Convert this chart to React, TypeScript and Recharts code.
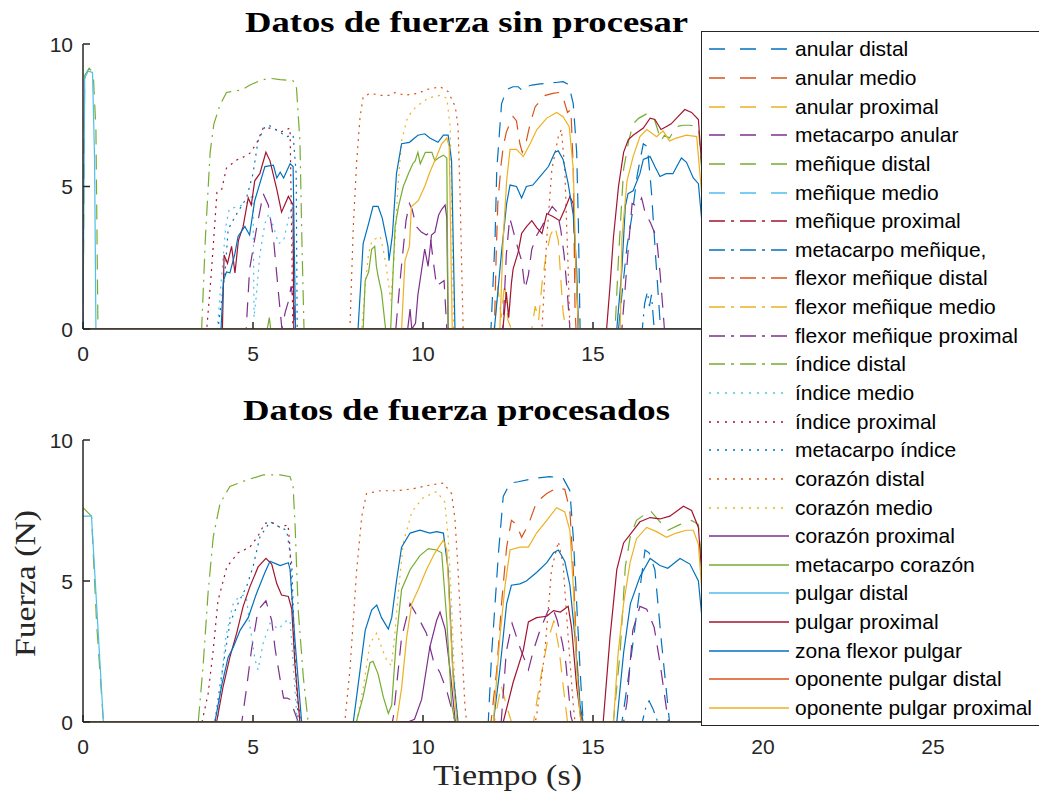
import React from "react";
import { Legend, Line, LineChart, XAxis, YAxis } from "recharts";

type Pt = [number, number];

const xTicks = [0, 5, 10, 15, 20, 25];
const yTicks = [0, 5, 10];

const seriesNames = [
  "anular distal",
  "anular medio",
  "anular proximal",
  "metacarpo anular",
  "meñique distal",
  "meñique medio",
  "meñique proximal",
  "metacarpo meñique,",
  "flexor meñique distal",
  "flexor meñique medio",
  "flexor meñique proximal",
  "índice distal",
  "índice medio",
  "índice proximal",
  "metacarpo índice",
  "corazón distal",
  "corazón medio",
  "corazón proximal",
  "metacarpo corazón",
  "pulgar distal",
  "pulgar proximal",
  "zona flexor pulgar",
  "oponente pulgar distal",
  "oponente pulgar proximal",
];

const seriesColors = [
  "#0072BD", "#D95319", "#EDB120", "#7E2F8E", "#77AC30", "#4DBEEE",
  "#A2142F", "#0072BD", "#D95319", "#EDB120", "#7E2F8E", "#77AC30",
  "#4DBEEE", "#A2142F", "#0072BD", "#D95319", "#EDB120", "#7E2F8E",
  "#77AC30", "#4DBEEE", "#A2142F", "#0072BD", "#D95319", "#EDB120",
];

const seriesStyles = [
  "dash", "dash", "dash", "dash", "dash", "dash",
  "dashdot", "dashdot", "dashdot", "dashdot", "dashdot", "dashdot",
  "dot", "dot", "dot", "dot", "dot",
  "solid", "solid", "solid", "solid", "solid", "solid", "solid",
];

// ---- raw force data (top panel), [time s, force N] ----
const rawAnularDistal: Pt[] = [[0, 0], [12.0, 0], [12.12, 3.2], [12.17, 5.6], [12.31, 7.9], [12.46, 8.4], [12.65, 8.5], [12.8, 8.5], [12.94, 8.35], [13.05, 8.5], [13.2, 8.56], [13.45, 8.6], [13.64, 8.62], [13.9, 8.65], [14.12, 8.68], [14.25, 8.6], [14.32, 8.4], [14.42, 7.9], [14.52, 6.2], [14.57, 3.7], [14.62, 0], [15.75, 0], [15.85, 1.2], [16.0, 2.9], [16.15, 4.0], [16.3, 5.4], [16.48, 6.5], [16.6, 6.4], [16.72, 4.8], [16.85, 2.4], [16.97, 0.3], [17.0, 0], [25, 0]];
const rawAnularMedio: Pt[] = [[0, 0], [12.1, 0], [12.15, 2.5], [12.2, 4.4], [12.3, 5.8], [12.36, 6.4], [12.45, 6.9], [12.55, 7.2], [12.65, 7.45], [12.75, 7.3], [12.85, 6.5], [12.92, 6.2], [13.04, 6.6], [13.15, 7.2], [13.3, 7.8], [13.45, 8.0], [13.6, 8.2], [13.82, 8.27], [14.02, 8.3], [14.15, 8.0], [14.25, 7.6], [14.35, 7.7], [14.42, 5.6], [14.47, 0.8], [14.5, 0], [25, 0]];
const rawAnularProximal: Pt[] = [[0, 0], [12.1, 0], [12.2, 1.5], [12.3, 0.4], [12.4, 1.6], [12.5, 0.3], [12.6, 0], [13.2, 0], [13.3, 0.8], [13.4, 0.3], [13.5, 1.6], [13.62, 2.6], [13.75, 3.3], [13.88, 3.6], [13.98, 3.1], [14.05, 1.8], [14.12, 0.6], [14.2, 0], [25, 0]];
const rawMetacarpoAnular: Pt[] = [[0, 0], [4.8, 0], [4.9, 2.1], [5.1, 3.5], [5.3, 4.75], [5.45, 4.35], [5.6, 3.2], [5.75, 1.25], [5.85, 0], [5.95, 0.6], [6.05, 1.0], [6.12, 1.5], [6.2, 0.9], [6.25, 0], [9.2, 0], [9.35, 2.0], [9.5, 3.8], [9.6, 4.4], [9.68, 4.2], [9.8, 3.6], [9.95, 3.4], [10.1, 3.3], [10.2, 3.4], [10.3, 2.4], [10.4, 1.5], [10.5, 1.6], [10.62, 1.7], [10.7, 0], [12.35, 0], [12.45, 2.6], [12.55, 3.9], [12.62, 3.6], [12.75, 3.0], [12.9, 2.4], [13.0, 1.4], [13.1, 1.9], [13.2, 2.8], [13.35, 3.3], [13.5, 3.6], [13.65, 4.0], [13.8, 4.3], [13.95, 4.1], [14.05, 3.5], [14.15, 2.6], [14.25, 1.2], [14.32, 0], [15.85, 0], [15.95, 1.5], [16.05, 3.0], [16.15, 4.4], [16.3, 4.3], [16.43, 4.6], [16.53, 4.1], [16.7, 3.7], [16.87, 3.2], [16.97, 2.0], [17.06, 0.65], [17.1, 0], [25, 0]];
const rawMeniqueDistal: Pt[] = [[0, 0], [0.05, 8.9], [0.18, 9.15], [0.3, 9.0], [0.38, 7], [0.44, 0], [15.65, 0], [15.75, 2.5], [15.9, 5.6], [16.05, 6.6], [16.18, 7.2], [16.35, 7.4], [16.58, 7.55], [16.78, 7.45], [16.9, 7.0], [17.0, 6.6], [17.1, 6.8], [17.25, 6.7], [17.45, 7.1], [17.65, 7.15], [17.85, 7.15], [18.1, 7.1], [18.3, 4], [18.45, 0], [25, 0]];
const rawMeniqueMedio: Pt[] = [[0, 0], [25, 0]];
const rawMeniqueProximal: Pt[] = [[0, 0], [25, 0]];
const rawMetacarpoMenique: Pt[] = [[0, 0], [16.45, 0], [16.52, 0.9], [16.6, 1.3], [16.66, 0.8], [16.72, 1.2], [16.8, 0], [25, 0]];
const rawFlexorMeniqueDistal: Pt[] = [[0, 0], [25, 0]];
const rawFlexorMeniqueMedio: Pt[] = [[0, 0], [25, 0]];
const rawFlexorMeniqueProximal: Pt[] = [[0, 0], [25, 0]];
const rawIndiceDistal: Pt[] = [[0, 0], [3.49, 0], [3.6, 3.2], [3.74, 6.2], [3.85, 7.2], [4.03, 7.86], [4.22, 8.3], [4.45, 8.35], [4.67, 8.39], [4.91, 8.56], [5.2, 8.71], [5.47, 8.8], [5.8, 8.75], [6.18, 8.71], [6.28, 8.45], [6.38, 6.6], [6.44, 3], [6.5, 0], [25, 0]];
const rawIndiceMedio: Pt[] = [[0, 0], [3.95, 0], [4.1, 2.2], [4.2, 3.6], [4.3, 4.2], [4.55, 4.3], [4.71, 4.35], [4.9, 4.5], [5.0, 4.75], [5.03, 0.4], [5.1, 1.2], [5.2, 2.6], [5.35, 3.7], [5.47, 4.05], [5.6, 3.6], [5.75, 3.0], [5.9, 3.1], [6.05, 3.9], [6.15, 4.3], [6.2, 0], [25, 0]];
const rawIndiceProximal: Pt[] = [[0, 0], [3.64, 0], [3.75, 1.6], [3.83, 2.9], [3.94, 4.8], [4.08, 4.9], [4.22, 5.65], [4.52, 5.93], [4.75, 6.05], [4.91, 6.17], [5.1, 6.5], [5.3, 7.05], [5.6, 7.05], [5.8, 6.9], [6.09, 7.05], [6.14, 3.1], [6.17, 0], [25, 0]];
const rawMetacarpoIndice: Pt[] = [[0, 0], [3.97, 0], [4.18, 2.0], [4.27, 3.5], [4.5, 4.0], [4.81, 4.6], [5.0, 5.45], [5.15, 6.6], [5.35, 7.1], [5.5, 7.13], [5.8, 6.9], [5.99, 6.75], [6.18, 6.8], [6.27, 5.45], [6.3, 0], [25, 0]];
const rawCorazonDistal: Pt[] = [[0, 0], [7.85, 0], [7.95, 3.6], [8.05, 5.9], [8.15, 7.45], [8.24, 8.15], [8.45, 8.27], [8.74, 8.2], [9.04, 8.2], [9.18, 8.3], [9.47, 8.2], [9.86, 8.27], [10.1, 8.4], [10.5, 8.5], [10.74, 8.33], [10.95, 7.8], [11.03, 7.1], [11.09, 4.75], [11.18, 0], [13.5, 0], [13.64, 3.2], [13.79, 5.6], [13.98, 6.75], [14.07, 7.0], [14.17, 5.6], [14.27, 2.1], [14.32, 0], [25, 0]];
const rawCorazonMedio: Pt[] = [[0, 0], [8.2, 0], [8.3, 1.5], [8.4, 2.65], [8.5, 3.1], [8.74, 3.25], [8.83, 2.8], [8.93, 2.1], [9.05, 1.0], [9.15, 2.5], [9.25, 4.8], [9.37, 6.6], [9.55, 7.45], [9.8, 7.8], [10.15, 8.1], [10.5, 8.2], [10.7, 8.1], [10.8, 7.1], [10.84, 4.75], [10.9, 0], [25, 0]];
const rawCorazonProximal: Pt[] = [[0, 0], [9.55, 0], [9.62, 0.7], [9.67, 0], [9.78, 0.2], [9.85, 1.2], [9.95, 2.0], [10.05, 2.8], [10.15, 2.2], [10.25, 3.3], [10.35, 3.4], [10.46, 4.0], [10.55, 4.2], [10.65, 4.35], [10.7, 3.9], [10.74, 0], [25, 0]];
const rawMetacarpoCorazon: Pt[] = [[0, 0], [5.42, 0], [5.48, 0.4], [5.52, 0], [8.24, 0], [8.3, 1.7], [8.4, 2.0], [8.49, 2.8], [8.58, 2.9], [8.63, 2.2], [8.68, 1.85], [8.78, 1.3], [8.9, 0], [9.05, 0], [9.12, 2.0], [9.18, 3.6], [9.28, 4.3], [9.42, 5.0], [9.57, 5.45], [9.7, 5.8], [9.77, 5.9], [9.85, 6.2], [9.92, 5.8], [10.07, 6.2], [10.26, 6.2], [10.35, 5.9], [10.45, 6.0], [10.6, 6.1], [10.7, 6.0], [10.74, 0], [25, 0]];
const rawPulgarDistal: Pt[] = [[0, 0], [0.05, 8.8], [0.15, 9.05], [0.28, 9.0], [0.34, 6], [0.38, 0], [25, 0]];
const rawPulgarProximal: Pt[] = [[0, 0], [4.1, 0], [4.15, 2.6], [4.25, 2.3], [4.37, 2.9], [4.47, 1.97], [4.57, 3.1], [4.71, 3.6], [4.86, 4.6], [4.95, 4.35], [5.05, 5.2], [5.2, 5.45], [5.38, 6.2], [5.5, 5.9], [5.7, 4.9], [5.84, 4.1], [6.04, 4.65], [6.18, 4.35], [6.2, 0], [12.35, 0], [12.45, 1.3], [12.52, 0.4], [12.6, 1.6], [12.65, 2.1], [12.8, 2.7], [12.9, 3.35], [13.05, 3.6], [13.2, 3.8], [13.35, 3.55], [13.5, 3.35], [13.64, 4.05], [13.82, 3.95], [14.02, 3.8], [14.17, 4.2], [14.32, 4.65], [14.42, 4.4], [14.5, 2.1], [14.57, 0], [15.4, 0], [15.5, 1.5], [15.6, 3.2], [15.75, 5.0], [15.9, 6.2], [16.04, 6.65], [16.18, 6.8], [16.48, 7.05], [16.68, 7.4], [16.82, 7.35], [17.0, 7.0], [17.15, 7.1], [17.3, 7.2], [17.5, 7.45], [17.7, 7.7], [17.9, 7.6], [18.1, 7.35], [18.3, 4.0], [18.45, 0], [25, 0]];
const rawZonaFlexorPulgar: Pt[] = [[0, 0], [4.06, 0], [4.13, 1.7], [4.22, 2.0], [4.32, 1.97], [4.47, 2.65], [4.56, 3.25], [4.76, 3.6], [4.9, 3.3], [5.05, 4.5], [5.2, 5.1], [5.35, 5.7], [5.6, 5.75], [5.7, 5.3], [5.8, 5.5], [5.9, 5.3], [6.09, 5.8], [6.18, 5.7], [6.25, 0], [8.09, 0], [8.24, 3.0], [8.4, 3.7], [8.53, 4.3], [8.68, 4.3], [8.8, 3.9], [8.97, 2.9], [9.0, 2.4], [9.1, 3.3], [9.22, 5.45], [9.37, 6.5], [9.6, 6.55], [9.85, 6.8], [10.05, 6.85], [10.2, 6.7], [10.44, 6.55], [10.6, 6.8], [10.74, 6.8], [10.84, 5.9], [10.94, 0], [12.1, 0], [12.31, 2.7], [12.46, 4.4], [12.56, 5.05], [12.75, 5.0], [12.9, 4.6], [13.04, 5.0], [13.23, 5.05], [13.44, 5.35], [13.69, 5.7], [13.88, 6.2], [13.98, 6.25], [14.12, 5.95], [14.27, 5.1], [14.42, 4.0], [14.52, 2.1], [14.57, 0], [15.7, 0], [15.85, 2.1], [15.95, 4.3], [16.03, 4.75], [16.18, 4.85], [16.38, 5.45], [16.48, 5.95], [16.68, 6.05], [16.82, 5.7], [16.97, 5.35], [17.15, 5.45], [17.35, 5.45], [17.6, 6.0], [17.75, 5.85], [17.95, 5.3], [18.1, 5.1], [18.3, 2.5], [18.45, 0], [25, 0]];
const rawOponentePulgarDistal: Pt[] = [[0, 0], [25, 0]];
const rawOponentePulgarProximal: Pt[] = [[0, 0], [9.37, 0], [9.47, 2.4], [9.6, 2.9], [9.66, 4.3], [9.86, 4.5], [10.05, 5.0], [10.2, 5.5], [10.4, 6.05], [10.55, 6.5], [10.7, 6.7], [10.77, 6.4], [10.86, 0], [12.26, 0], [12.36, 3.2], [12.46, 5.2], [12.56, 6.3], [12.75, 6.3], [12.95, 6.05], [13.15, 6.5], [13.35, 7.0], [13.64, 7.4], [13.93, 7.6], [14.12, 7.45], [14.3, 7.1], [14.42, 5.6], [14.5, 2.1], [14.57, 0], [15.8, 0], [15.85, 3.2], [16.0, 5.2], [16.18, 6.05], [16.38, 6.75], [16.58, 7.0], [16.87, 6.75], [17.06, 6.95], [17.25, 6.6], [17.45, 6.7], [17.75, 6.8], [18.05, 6.75], [18.25, 4.0], [18.4, 0], [25, 0]];

// ---- processed force data (bottom panel) ----
const procAnularDistal: Pt[] = [[0, 0], [11.92, 0], [12.02, 2.45], [12.12, 4.2], [12.22, 6.0], [12.36, 8.0], [12.56, 8.47], [12.8, 8.52], [13.34, 8.65], [13.73, 8.7], [14.12, 8.65], [14.32, 8.2], [14.42, 6.55], [14.52, 4.2], [14.62, 1.85], [14.71, 0], [15.85, 0], [15.9, 0.4], [16.1, 2.1], [16.3, 4.0], [16.53, 6.1], [16.65, 6.0], [16.82, 5.4], [17.0, 3.0], [17.15, 1.2], [17.25, 0], [25, 0]];
const procAnularMedio: Pt[] = [[0, 0], [12.0, 0], [12.17, 1.85], [12.31, 4.2], [12.46, 6.2], [12.6, 7.15], [12.75, 7.0], [12.9, 6.55], [13.1, 7.0], [13.34, 7.8], [13.64, 8.1], [13.93, 8.3], [14.17, 8.25], [14.32, 7.5], [14.42, 5.4], [14.52, 2.45], [14.62, 0.4], [14.67, 0], [25, 0]];
const procAnularProximal: Pt[] = [[0, 0], [12.1, 0], [12.3, 1.3], [12.45, 0.6], [12.6, 0], [13.25, 0], [13.45, 1.5], [13.65, 2.8], [13.85, 3.6], [14.0, 2.6], [14.15, 1.0], [14.25, 0], [25, 0]];
const procMetacarpoAnular: Pt[] = [[0, 0], [4.67, 0], [4.81, 1.2], [4.96, 2.6], [5.15, 3.97], [5.38, 4.3], [5.55, 3.6], [5.65, 2.6], [5.8, 1.5], [5.9, 0.85], [6.0, 0.85], [6.09, 0.8], [6.24, 0.3], [6.33, 0], [9.1, 0], [9.13, 0.2], [9.37, 3.0], [9.62, 4.2], [9.86, 3.7], [10.1, 3.15], [10.3, 2.2], [10.5, 1.75], [10.7, 1.1], [10.9, 0.2], [10.95, 0], [12.3, 0], [12.45, 2.5], [12.62, 3.5], [12.85, 2.65], [13.1, 1.85], [13.25, 2.55], [13.44, 3.25], [13.68, 3.95], [13.8, 4.1], [13.95, 3.6], [14.1, 2.8], [14.2, 2.1], [14.35, 0.2], [14.4, 0], [15.9, 0], [16.0, 0.7], [16.17, 3.25], [16.38, 4.1], [16.58, 4.0], [16.8, 3.35], [16.97, 2.1], [17.18, 0.3], [17.22, 0], [25, 0]];
const procMeniqueDistal: Pt[] = [[0, 7.6], [0.25, 7.3], [0.4, 3.5], [0.6, 0], [15.6, 0], [15.8, 2.5], [15.95, 5.5], [16.1, 6.6], [16.28, 7.15], [16.68, 7.5], [16.97, 7.1], [17.2, 6.8], [17.55, 7.0], [17.9, 7.15], [18.1, 7.0], [18.3, 4], [18.5, 0], [25, 0]];
const procMeniqueMedio: Pt[] = [[0, 0], [25, 0]];
const procMeniqueProximal: Pt[] = [[0, 0], [25, 0]];
const procMetacarpoMenique: Pt[] = [[0, 0], [16.45, 0], [16.55, 0.5], [16.65, 0.75], [16.75, 0.5], [16.85, 0.2], [16.9, 0], [25, 0]];
const procFlexorMeniqueDistal: Pt[] = [[0, 0], [25, 0]];
const procFlexorMeniqueMedio: Pt[] = [[0, 0], [25, 0]];
const procFlexorMeniqueProximal: Pt[] = [[0, 0], [25, 0]];
const procIndiceDistal: Pt[] = [[0, 0], [3.39, 0], [3.53, 1.95], [3.68, 4.6], [3.83, 6.55], [4.03, 7.75], [4.32, 8.35], [4.81, 8.58], [5.3, 8.76], [5.8, 8.76], [6.09, 8.7], [6.18, 8.35], [6.24, 6.9], [6.33, 3.97], [6.48, 1.6], [6.62, 0], [25, 0]];
const procIndiceMedio: Pt[] = [[0, 0], [3.95, 0], [4.1, 1.8], [4.2, 3.0], [4.32, 3.7], [4.42, 4.2], [4.56, 4.4], [4.71, 4.5], [4.8, 4.45], [4.91, 3.4], [5.06, 2.2], [5.15, 1.85], [5.3, 2.8], [5.5, 3.5], [5.75, 3.3], [5.99, 3.6], [6.09, 3.6], [6.18, 2.1], [6.3, 0], [25, 0]];
const procIndiceProximal: Pt[] = [[0, 0], [3.5, 0], [3.68, 1.0], [3.83, 2.55], [3.97, 4.3], [4.23, 5.5], [4.56, 6.0], [4.91, 6.2], [5.15, 6.6], [5.35, 7.05], [5.6, 7.05], [5.8, 6.9], [6.03, 7.0], [6.08, 6.3], [6.18, 3.4], [6.3, 1.0], [6.4, 0], [25, 0]];
const procMetacarpoIndice: Pt[] = [[0, 0], [3.88, 0], [4.03, 1.3], [4.18, 2.45], [4.32, 3.5], [4.56, 4.2], [4.81, 4.8], [5.0, 5.5], [5.2, 6.55], [5.5, 7.1], [5.8, 6.9], [5.99, 6.8], [6.14, 5.6], [6.24, 2.1], [6.33, 0], [25, 0]];
const procCorazonDistal: Pt[] = [[0, 0], [7.7, 0], [7.85, 1.85], [7.95, 3.6], [8.05, 5.4], [8.2, 7.3], [8.34, 8.1], [8.74, 8.2], [9.22, 8.2], [9.7, 8.27], [10.2, 8.4], [10.6, 8.47], [10.84, 8.1], [10.94, 7.2], [11.03, 5.4], [11.13, 3.0], [11.23, 0.65], [11.28, 0], [13.3, 0], [13.34, 0.2], [13.58, 2.45], [13.78, 5.4], [13.98, 6.4], [14.12, 5.6], [14.27, 3.0], [14.42, 0.6], [14.47, 0], [25, 0]];
const procCorazonMedio: Pt[] = [[0, 0], [8.05, 0], [8.24, 1.2], [8.44, 2.8], [8.64, 3.15], [8.78, 2.65], [8.93, 2.2], [9.07, 2.0], [9.17, 3.1], [9.27, 4.55], [9.42, 6.35], [9.67, 7.45], [10.0, 7.95], [10.4, 8.17], [10.64, 7.8], [10.74, 6.55], [10.84, 4.2], [10.94, 1.2], [11.03, 0], [25, 0]];
const procCorazonProximal: Pt[] = [[0, 0], [9.55, 0], [9.75, 0.1], [9.96, 0.8], [10.2, 2.65], [10.4, 3.6], [10.5, 3.9], [10.65, 3.3], [10.8, 1.8], [10.95, 0], [25, 0]];
const procMetacarpoCorazon: Pt[] = [[0, 0], [8.04, 0], [8.24, 0.9], [8.44, 2.1], [8.53, 2.15], [8.68, 1.7], [8.83, 0.9], [8.98, 0.3], [9.08, 0.6], [9.22, 3.0], [9.37, 4.7], [9.62, 5.4], [9.91, 5.9], [10.16, 6.15], [10.4, 6.1], [10.55, 6.0], [10.7, 3.6], [10.84, 0.65], [10.94, 0], [25, 0]];
const procPulgarDistal: Pt[] = [[0, 7.3], [0.25, 7.3], [0.6, 0], [25, 0]];
const procPulgarProximal: Pt[] = [[0, 0], [3.93, 0], [4.12, 1.25], [4.32, 2.3], [4.52, 3.15], [4.71, 4.1], [4.91, 4.8], [5.15, 5.5], [5.38, 5.8], [5.55, 5.6], [5.7, 4.9], [5.84, 4.5], [6.04, 4.45], [6.14, 4.0], [6.23, 2.1], [6.38, 0], [12.36, 0], [12.65, 1.4], [12.95, 2.55], [13.1, 3.55], [13.34, 3.7], [13.64, 3.75], [13.84, 3.95], [14.04, 3.9], [14.27, 4.1], [14.37, 3.35], [14.52, 1.25], [14.66, 0], [15.3, 0], [15.5, 3.0], [15.7, 5.4], [15.9, 6.35], [16.19, 6.8], [16.38, 7.1], [16.68, 7.25], [16.97, 7.2], [17.26, 7.3], [17.66, 7.65], [17.9, 7.5], [18.1, 6.9], [18.3, 3.5], [18.45, 0], [25, 0]];
const procZonaFlexorPulgar: Pt[] = [[0, 0], [3.88, 0], [4.08, 1.3], [4.27, 2.3], [4.42, 2.65], [4.62, 3.25], [4.86, 3.7], [5.1, 4.55], [5.35, 5.3], [5.5, 5.7], [5.7, 5.6], [5.8, 5.55], [6.04, 5.65], [6.09, 5.4], [6.24, 2.8], [6.43, 0], [7.95, 0], [8.15, 1.85], [8.3, 3.25], [8.49, 3.97], [8.64, 4.15], [8.78, 3.7], [8.98, 3.3], [9.08, 3.7], [9.22, 5.0], [9.37, 6.2], [9.62, 6.7], [9.91, 6.8], [10.2, 6.7], [10.4, 6.75], [10.6, 6.7], [10.74, 5.4], [10.88, 1.8], [11.03, 0], [12.07, 0], [12.26, 1.85], [12.46, 4.2], [12.6, 4.85], [12.85, 4.9], [13.04, 5.0], [13.34, 5.3], [13.64, 5.65], [13.84, 6.0], [13.98, 6.1], [14.17, 5.7], [14.32, 4.85], [14.47, 3.0], [14.62, 0.6], [14.71, 0], [15.7, 0], [15.9, 2.45], [16.1, 4.2], [16.38, 5.15], [16.68, 5.8], [16.97, 5.55], [17.2, 5.45], [17.56, 5.8], [17.85, 5.6], [18.1, 5.0], [18.3, 2.5], [18.45, 0], [25, 0]];
const procOponentePulgarDistal: Pt[] = [[0, 0], [25, 0]];
const procOponentePulgarProximal: Pt[] = [[0, 0], [9.22, 0], [9.37, 1.2], [9.52, 3.0], [9.67, 4.2], [9.86, 4.7], [10.1, 5.4], [10.35, 6.0], [10.6, 6.45], [10.7, 6.1], [10.8, 3.6], [10.9, 1.2], [11.0, 0], [12.07, 0], [12.26, 3.0], [12.41, 4.8], [12.56, 6.1], [12.85, 6.2], [13.1, 6.2], [13.34, 6.7], [13.64, 7.15], [13.93, 7.6], [14.17, 7.45], [14.32, 6.8], [14.42, 4.8], [14.52, 1.85], [14.62, 0.2], [14.67, 0], [15.6, 0], [15.74, 2.45], [15.9, 4.2], [16.09, 5.65], [16.28, 6.5], [16.58, 6.9], [16.87, 6.75], [17.16, 6.55], [17.45, 6.7], [17.75, 6.8], [17.95, 6.8], [18.1, 6.3], [18.3, 3.0], [18.45, 0], [25, 0]];

const rawSeries = [
  rawAnularDistal, rawAnularMedio, rawAnularProximal, rawMetacarpoAnular,
  rawMeniqueDistal, rawMeniqueMedio, rawMeniqueProximal, rawMetacarpoMenique,
  rawFlexorMeniqueDistal, rawFlexorMeniqueMedio, rawFlexorMeniqueProximal,
  rawIndiceDistal, rawIndiceMedio, rawIndiceProximal, rawMetacarpoIndice,
  rawCorazonDistal, rawCorazonMedio, rawCorazonProximal, rawMetacarpoCorazon,
  rawPulgarDistal, rawPulgarProximal, rawZonaFlexorPulgar,
  rawOponentePulgarDistal, rawOponentePulgarProximal,
];

const procSeries = [
  procAnularDistal, procAnularMedio, procAnularProximal, procMetacarpoAnular,
  procMeniqueDistal, procMeniqueMedio, procMeniqueProximal, procMetacarpoMenique,
  procFlexorMeniqueDistal, procFlexorMeniqueMedio, procFlexorMeniqueProximal,
  procIndiceDistal, procIndiceMedio, procIndiceProximal, procMetacarpoIndice,
  procCorazonDistal, procCorazonMedio, procCorazonProximal, procMetacarpoCorazon,
  procPulgarDistal, procPulgarProximal, procZonaFlexorPulgar,
  procOponentePulgarDistal, procOponentePulgarProximal,
];

const AXIS = "#262626";
const SANS = "Arial, 'Liberation Sans', Helvetica, sans-serif";
const SERIF = "'Liberation Serif', 'Times New Roman', serif";

const plotDash: Record<string, string | undefined> = {
  solid: undefined,
  dash: "15 10",
  dashdot: "15 6 2 6",
  dot: "2 5",
};
const legendDash: Record<string, string | undefined> = {
  solid: undefined,
  dash: "16 15",
  dashdot: "16 6 3 6",
  dot: "2 6",
};

const axisLineStyle = { stroke: AXIS, strokeWidth: 1.5 };

function BottomTick(props: any) {
  const { x, y, payload, hideFrom } = props;
  return (
    <g>
      <line x1={x} x2={x} y1={y} y2={y - 7} stroke={AXIS} strokeWidth={1.5} />
      {payload.value < hideFrom && (
        <text x={x} y={y + 32} textAnchor="middle" fill={AXIS} fontSize={21} fontFamily={SANS}>
          {payload.value}
        </text>
      )}
    </g>
  );
}

function TopTick(props: any) {
  const { x, y } = props;
  return <line x1={x} x2={x} y1={y} y2={y + 7} stroke={AXIS} strokeWidth={1.5} />;
}

function LeftTick(props: any) {
  const { x, y, payload } = props;
  return (
    <g>
      <line x1={x} x2={x + 7} y1={y} y2={y} stroke={AXIS} strokeWidth={1.5} />
      <text x={x - 10} y={y + 7.5} textAnchor="end" fill={AXIS} fontSize={21} fontFamily={SANS}>
        {payload.value}
      </text>
    </g>
  );
}

function LegendBox() {
  return (
    <div
      style={{
        background: "#fff",
        border: `1px solid ${AXIS}`,
        borderRight: "none",
        boxSizing: "border-box",
        width: 338,
        height: 695,
        paddingTop: 3,
        fontFamily: SANS,
        fontSize: 21,
        color: "#000",
      }}
    >
      {seriesNames.map((name, i) => (
        <div key={name} style={{ height: 28.65, display: "flex", alignItems: "center" }}>
          <svg width={80} height={4} style={{ marginLeft: 7, marginRight: 6, flex: "none" }}>
            <line
              x1={0}
              x2={80}
              y1={2}
              y2={2}
              stroke={seriesColors[i]}
              strokeWidth={1.4}
              strokeDasharray={legendDash[seriesStyles[i]]}
            />
          </svg>
          <span style={{ whiteSpace: "nowrap", lineHeight: "28px" }}>{name}</span>
        </div>
      ))}
    </div>
  );
}

function ForcePanel({ series, top, height, margin, withLegend, hideFrom }: any) {
  return (
    <div style={{ position: "absolute", left: 0, top }}>
      <LineChart width={1039} height={height} margin={margin}>
        <XAxis
          xAxisId="b"
          type="number"
          dataKey="t"
          domain={[0, 25]}
          ticks={xTicks}
          interval={0}
          allowDataOverflow
          height={30}
          stroke={AXIS}
          tickSize={0}
          tickMargin={0}
          tickLine={false}
          axisLine={axisLineStyle}
          tick={(p: any) => <BottomTick {...p} hideFrom={hideFrom} />}
        />
        <XAxis
          xAxisId="t"
          orientation="top"
          type="number"
          dataKey="t"
          domain={[0, 25]}
          ticks={xTicks}
          interval={0}
          allowDataOverflow
          height={0}
          stroke={AXIS}
          tickSize={0}
          tickMargin={0}
          tickLine={false}
          axisLine={axisLineStyle}
          tick={(p: any) => <TopTick {...p} />}
        />
        <YAxis
          yAxisId="l"
          type="number"
          domain={[0, 10]}
          ticks={yTicks}
          interval={0}
          allowDataOverflow
          width={40}
          stroke={AXIS}
          tickSize={0}
          tickMargin={0}
          tickLine={false}
          axisLine={axisLineStyle}
          tick={(p: any) => <LeftTick {...p} />}
        />
        {series.map((pts: Pt[], i: number) => (
          <Line
            key={seriesNames[i]}
            xAxisId="b"
            yAxisId="l"
            name={seriesNames[i]}
            data={pts.map(([t, v]) => ({ t, v }))}
            dataKey="v"
            type="linear"
            stroke={seriesColors[i]}
            strokeWidth={1.2}
            strokeDasharray={plotDash[seriesStyles[i]]}
            dot={false}
            activeDot={false}
            isAnimationActive={false}
          />
        ))}
        {withLegend && (
          <Legend
            layout="horizontal"
            verticalAlign="middle"
            align="center"
            content={() => <LegendBox />}
            wrapperStyle={{ left: 701, top: 31 - top, right: "auto", bottom: "auto", width: 338, height: 695, zIndex: 5 }}
          />
        )}
      </LineChart>
    </div>
  );
}

export default function App() {
  return (
    <div
      style={{
        position: "absolute",
        left: 0,
        top: 0,
        width: 1039,
        height: 794,
        overflow: "hidden",
        background: "#fff",
      }}
    >
      <svg width={1039} height={794} style={{ position: "absolute", left: 0, top: 0 }}>
        <text x={245} y={32} fontFamily={SERIF} fontWeight="bold" fontSize={30} fill="#000" textLength={443} lengthAdjust="spacingAndGlyphs">
          Datos de fuerza sin procesar
        </text>
        <text x={243} y={420} fontFamily={SERIF} fontWeight="bold" fontSize={30} fill="#000" textLength={427} lengthAdjust="spacingAndGlyphs">
          Datos de fuerza procesados
        </text>
        <text x={433} y={785} fontFamily={SERIF} fontSize={30} fill={AXIS} textLength={149} lengthAdjust="spacingAndGlyphs">
          Tiempo (s)
        </text>
        <text
          x={35}
          y={583.5}
          transform="rotate(-90 35 583.5)"
          textAnchor="middle"
          fontFamily={SERIF}
          fontSize={30}
          fill={AXIS}
          textLength={147}
          lengthAdjust="spacingAndGlyphs"
        >
          Fuerza (N)
        </text>
      </svg>
      <ForcePanel series={rawSeries} top={0} height={375} hideFrom={20} margin={{ top: 44, right: 106, bottom: 16, left: 43 }} />
      <ForcePanel series={procSeries} top={380} height={414} hideFrom={99} margin={{ top: 60, right: 106, bottom: 42, left: 43 }} withLegend />
    </div>
  );
}
